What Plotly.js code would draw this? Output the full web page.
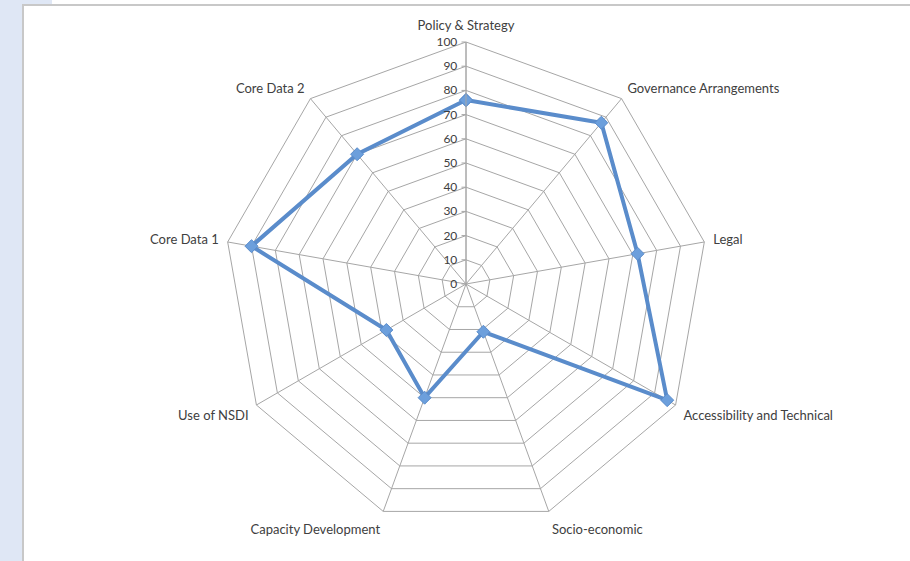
<!DOCTYPE html>
<html>
<head>
<meta charset="utf-8">
<script src="https://cdn.plot.ly/plotly-3.0.1.min.js"></script>
<style>
html,body{margin:0;padding:0;width:910px;height:561px;overflow:hidden;background:#ffffff;}
#strip{position:absolute;left:0;top:0;width:22px;height:561px;background:#dfe7f5;}
#topstrip{position:absolute;left:0;top:0;width:910px;height:4px;background:#ffffff;}
#topblue{position:absolute;left:0;top:0;width:52px;height:4px;background:#dfe7f5;}
#frame{position:absolute;left:22px;top:4px;width:900px;height:570px;border-left:2px solid #c8c8c8;border-top:2px solid #c8c8c8;box-sizing:border-box;}
#chart{position:absolute;left:0;top:0;width:910px;height:561px;}
</style>
</head>
<body>
<div id="strip"></div>
<div id="topstrip"></div>
<div id="topblue"></div>
<div id="frame"></div>
<div id="chart"></div>
<script>
const categories = ["Policy & Strategy","Governance Arrangements","Legal","Accessibility and Technical","Socio-economic","Capacity Development","Use of NSDI","Core Data 1","Core Data 2"];
const values = [76, 87, 72, 96, 21, 50, 38, 90, 70];
const radialTicks = [0,10,20,30,40,50,60,70,80,90,100];

const cx = 466, cy = 284, R = 242, W = 910, H = 561;

const trace = {
  type: "scatterpolar",
  r: values.concat([values[0]]),
  theta: categories.concat([categories[0]]),
  mode: "lines+markers",
  line: {color: "#5a8ccb", width: 4},
  marker: {symbol: "diamond", size: 10, color: "#6c9fdc", line: {color: "#5a8ccb", width: 1}},
  hoverinfo: "skip",
  showlegend: false
};

const layout = {
  width: W, height: H,
  margin: {l:0, r:0, t:0, b:0},
  paper_bgcolor: "rgba(0,0,0,0)",
  font: {family: "Lato, 'Open Sans', sans-serif", size: 12, color: "#404040"},
  showlegend: false,
  polar: {
    domain: {x: [(cx-R)/W, (cx+R)/W], y: [(H-cy-R)/H, (H-cy+R)/H]},
    bgcolor: "rgba(0,0,0,0)",
    gridshape: "linear",
    angularaxis: {
      direction: "clockwise",
      rotation: 90,
      type: "category",
      categoryarray: categories,
      linecolor: "#a6a6a6",
      linewidth: 1,
      gridcolor: "#a6a6a6",
      gridwidth: 1,
      ticks: "outside",
      ticklen: 6,
      tickcolor: "rgba(0,0,0,0)",
      tickfont: {size: 13, color: "#404040"}
    },
    radialaxis: {
      range: [0, 100],
      tickvals: radialTicks,
      ticktext: radialTicks.map(String),
      angle: 90,
      tickangle: 90,
      side: "counterclockwise",
      showline: true,
      linecolor: "#a6a6a6",
      linewidth: 1,
      gridcolor: "#a6a6a6",
      gridwidth: 1,
      ticks: "outside",
      ticklen: 4,
      tickcolor: "#a6a6a6",
      tickfont: {size: 12, color: "#404040"}
    }
  }
};

Plotly.newPlot("chart", [trace], layout, {displayModeBar: false, staticPlot: true});
</script>
</body>
</html>
